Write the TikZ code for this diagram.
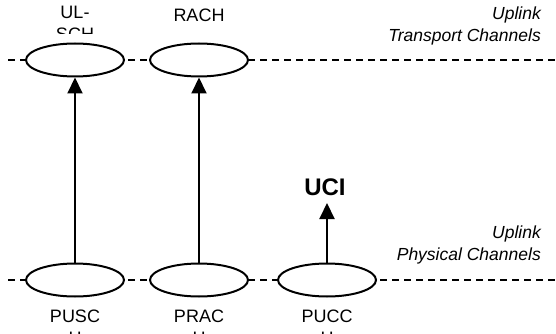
\documentclass[tikz,border=0pt]{standalone}
\usepackage{fontspec}
\setmainfont{Liberation Sans}
\usetikzlibrary{arrows.meta,shapes.geometric}
\begin{document}
\begin{tikzpicture}[x=1pt,y=-1pt,
  chan/.style={draw, line width=2pt, fill=white, ellipse, inner sep=0pt,
    minimum width=98pt, minimum height=33pt},
  layer/.style={line width=2pt, dash pattern=on 7pt off 5pt},
  flow/.style={line width=2pt, -{Triangle[length=16pt,width=15pt]}},
  lab/.style={font=\fontsize{18}{22}\selectfont, align=center, inner sep=0pt, anchor=north},
  side/.style={font=\fontsize{17.5}{22}\itshape, align=right, inner sep=0pt, anchor=north east},
  big/.style={font=\fontsize{24}{28}\bfseries, inner sep=0pt}]
\useasboundingbox (0,0) rectangle (556,334);
\clip (0,0) rectangle (556,334);

% layer boundaries
\coordinate (tl) at (8,60);
\coordinate (tr) at (556,60);
\coordinate (bl) at (8,280);
\coordinate (br) at (556,280);
\draw[layer] (tl) -- (tr);
\draw[layer] (bl) -- (br);

% transport channels
\node[chan] (ulsch) at (75,60) {};
\node[chan] (rach) at (199,60) {};
% physical channels
\node[chan] (pusch) at (75,280) {};
\node[chan] (prach) at (199,280) {};
\node[chan] (pucch) at (327,280) {};

% mappings
\coordinate (ucitip) at (327,203);
\draw[flow] (pusch) -- (ulsch);
\draw[flow] (prach) -- (rach);
\draw[flow] (pucch) -- (ucitip);

% channel names
\begin{scope}
  \clip (0,0) rectangle (556,34);
  \node[lab] (ulschname) at (75,6) {UL-\\SCH};
\end{scope}
\node[lab] (rachname) at (199,9) {RACH};
\node[lab] (puschname) at (75,310) {PUSC\\H};
\node[lab] (prachname) at (199,310) {PRAC\\H};
\node[lab] (pucchname) at (327,310) {PUCC\\H};

\node[big] (uci) at (325,187) {UCI};

% layer names
\node[side] (trname) at (541,7) {Uplink\\Transport Channels};
\node[side] (phname) at (541,226) {Uplink\\Physical Channels};
\end{tikzpicture}
\end{document}
